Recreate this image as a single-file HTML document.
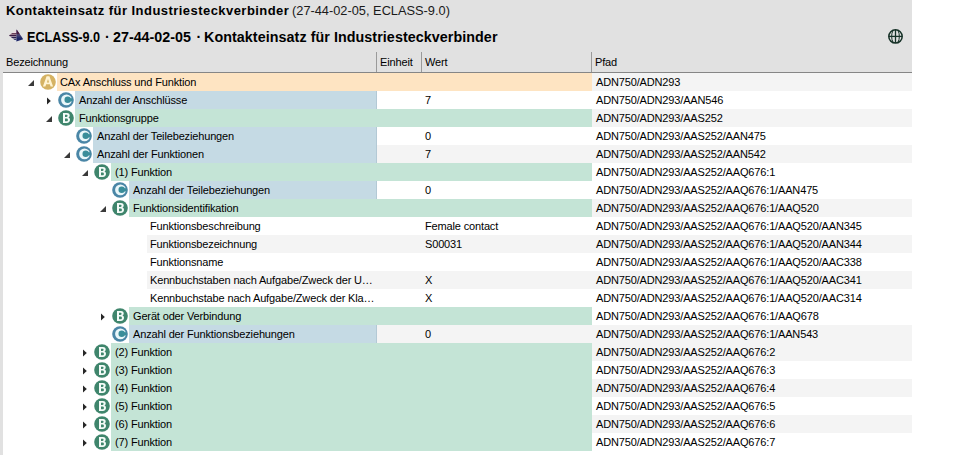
<!DOCTYPE html>
<html><head><meta charset="utf-8"><style>
html,body{margin:0;padding:0;background:#fff;}
body{width:955px;height:455px;position:relative;overflow:hidden;background:#fff;font-family:"Liberation Sans",sans-serif;}
#panel{position:absolute;left:0;top:0;width:912px;height:455px;background:#e1e1e1;}
#grid{position:absolute;left:3px;top:73px;width:909px;height:382px;background:#fff;}
.bg{position:absolute;height:18px;}
.tx{position:absolute;height:18px;line-height:18px;font-size:11px;letter-spacing:-0.15px;color:#000;white-space:nowrap;}
.ic,.ex{position:absolute;}
.hd{position:absolute;top:52px;height:21px;line-height:21px;font-size:11px;letter-spacing:-0.15px;color:#000;white-space:nowrap;}
.sep{position:absolute;top:52px;width:1px;height:20px;background:#9a9a9a;}
#hline{position:absolute;left:3px;top:72px;width:909px;height:1px;background:#868686;}
.t1{position:absolute;top:0;height:21px;line-height:21px;white-space:nowrap;color:#000;}
.t2{position:absolute;top:26px;height:22px;line-height:22px;white-space:nowrap;color:#000;font-weight:bold;font-size:14.3px;}
</style></head><body>
<div id="panel"></div>
<div id="grid"></div>
<div class="t1" style="left:6px;font-weight:bold;font-size:13px;letter-spacing:0.45px">Kontakteinsatz für Industriesteckverbinder</div>
<div class="t1" style="left:292px;font-size:12.8px;color:#1a1a1a">(27-44-02-05, ECLASS-9.0)</div>
<svg style="position:absolute;left:8px;top:28px" width="17" height="15" viewBox="0 0 17 15">
 <defs><clipPath id="lf"><path d="M8.6 1.5 L8.4 13.6 L1 7.4 Z"/></clipPath><clipPath id="rf"><path d="M8.6 1.5 L15.2 11.2 L8.4 13.6 Z"/></clipPath></defs>
 <g clip-path="url(#lf)"><rect x="0" y="0" width="17" height="15" fill="#eadbe2"/>
  <rect x="0" y="5.2" width="17" height="1.3" fill="#4c1c3c"/><rect x="0" y="7" width="17" height="1.3" fill="#3a1c44"/><rect x="0" y="8.8" width="17" height="1.3" fill="#2c2050"/><rect x="0" y="10.6" width="17" height="1.3" fill="#28305e"/><rect x="0" y="12.2" width="17" height="2" fill="#c8dcf0"/></g>
 <g clip-path="url(#rf)"><rect x="0" y="0" width="17" height="15" fill="#1c2466"/><rect x="0" y="0" width="17" height="6" fill="#4a1a40"/>
  <rect x="0" y="6.6" width="17" height="0.8" fill="#8a6a80"/><rect x="0" y="8.6" width="17" height="0.6" fill="#5a5a8a"/></g>
</svg>
<div class="t2" style="left:27px;transform:scaleX(0.885);transform-origin:0 0">ECLASS-9.0</div>
<div class="t2" style="left:105px">·</div>
<div class="t2" style="left:113px;letter-spacing:0px">27-44-02-05</div>
<div class="t2" style="left:196.5px">·</div>
<div class="t2" style="left:204px;letter-spacing:0.065px">Kontakteinsatz für Industriesteckverbinder</div>
<svg style="position:absolute;left:887px;top:28px" width="17" height="17" viewBox="0 0 17 17">
 <g fill="none" stroke="#173228">
  <circle cx="8.5" cy="8.4" r="6.7" stroke-width="1.5"/>
  <line x1="8.5" y1="1.8" x2="8.5" y2="15" stroke-width="1.3"/>
  <line x1="1.8" y1="8.4" x2="15.2" y2="8.4" stroke-width="1.3"/>
  <path d="M6 2.6 C4.2 5.6 4.2 11.2 6 14.2 M11 2.6 C12.8 5.6 12.8 11.2 11 14.2" stroke-width="1"/>
 </g>
</svg>
<div class="hd" style="left:6px">Bezeichnung</div>
<div class="hd" style="left:380px">Einheit</div>
<div class="hd" style="left:425px">Wert</div>
<div class="hd" style="left:595px">Pfad</div>
<div class="sep" style="left:376px"></div>
<div class="sep" style="left:421px"></div>
<div class="sep" style="left:591px"></div>
<div id="hline"></div>
<div class="bg" style="top:73px;left:57px;width:535px;background:#fee4c2"></div>
<div class="bg" style="top:73px;left:592px;width:320px;background:#f4f4f4"></div>
<svg class="ex" style="left:27px;top:79px" width="8" height="8" viewBox="0 0 8 8"><path d="M7 1 L7 7 L1 7 Z" fill="#3a3a3a"/></svg>
<svg class="ic" style="left:40px;top:74px" width="16" height="16" viewBox="0 0 16 16"><circle cx="8" cy="8" r="7.8" fill="#d5b263"/><path d="M2.9 12.5 L6.6 2.2 L9.4 2.2 L13.1 12.5 L10.6 12.5 L9.8 10.2 L6.2 10.2 L5.4 12.5 Z M6.9 8.4 L9.1 8.4 L8 5 Z" fill="#fff3d2" fill-rule="evenodd"/></svg>
<div class="tx" style="top:73px;left:60px">CAx Anschluss und Funktion</div>
<div class="tx" style="top:73px;left:596px">ADN750/ADN293</div>
<div class="bg" style="top:91px;left:75px;width:302px;background:#c5dae4"></div>
<div class="bg" style="top:91px;left:376px;width:1px;background:#b3c9d5"></div>
<div class="bg" style="top:91px;left:377px;width:215px;background:#ffffff"></div>
<div class="bg" style="top:91px;left:592px;width:320px;background:#ffffff"></div>
<svg class="ex" style="left:46px;top:97px" width="6" height="8" viewBox="0 0 6 8"><path d="M1 0.5 L4.8 4 L1 7.5 Z" fill="#262626"/></svg>
<svg class="ic" style="left:58px;top:92px" width="16" height="16" viewBox="0 0 16 16"><circle cx="8" cy="8" r="7.8" fill="#4a86a6"/><circle cx="8.5" cy="7.9" r="5.4" fill="#eaf7fa"/><circle cx="9.7" cy="7.8" r="3.2" fill="#3a8d9a"/><rect x="9.7" y="6.2" width="4.8" height="3.2" fill="#3a8d9a"/></svg>
<div class="tx" style="top:91px;left:79px">Anzahl der Anschlüsse</div>
<div class="tx" style="top:91px;left:425px">7</div>
<div class="tx" style="top:91px;left:596px">ADN750/ADN293/AAN546</div>
<div class="bg" style="top:109px;left:75px;width:517px;background:#c4e4d6"></div>
<div class="bg" style="top:109px;left:592px;width:320px;background:#f4f4f4"></div>
<svg class="ex" style="left:45px;top:115px" width="8" height="8" viewBox="0 0 8 8"><path d="M7 1 L7 7 L1 7 Z" fill="#3a3a3a"/></svg>
<svg class="ic" style="left:58px;top:110px" width="16" height="16" viewBox="0 0 16 16"><circle cx="8" cy="8" r="7.8" fill="#3f856c"/><path d="M5 3 H8.9 C11 3 11.7 4.2 11.7 5.4 C11.7 6.5 11.1 7.2 10.3 7.5 C11.4 7.8 12 8.6 12 9.8 C12 11.5 10.9 13 8.7 13 H5 Z M7 4.7 V7 H8.4 C9.2 7 9.6 6.5 9.6 5.85 C9.6 5.2 9.2 4.7 8.4 4.7 Z M7 8.6 V11.3 H8.6 C9.5 11.3 9.9 10.7 9.9 9.95 C9.9 9.2 9.5 8.6 8.6 8.6 Z" fill="#f4fbf8" fill-rule="evenodd"/></svg>
<div class="tx" style="top:109px;left:79px">Funktionsgruppe</div>
<div class="tx" style="top:109px;left:596px">ADN750/ADN293/AAS252</div>
<div class="bg" style="top:127px;left:93px;width:284px;background:#c5dae4"></div>
<div class="bg" style="top:127px;left:376px;width:1px;background:#b3c9d5"></div>
<div class="bg" style="top:127px;left:377px;width:215px;background:#ffffff"></div>
<div class="bg" style="top:127px;left:592px;width:320px;background:#ffffff"></div>
<svg class="ic" style="left:76px;top:128px" width="16" height="16" viewBox="0 0 16 16"><circle cx="8" cy="8" r="7.8" fill="#4a86a6"/><circle cx="8.5" cy="7.9" r="5.4" fill="#eaf7fa"/><circle cx="9.7" cy="7.8" r="3.2" fill="#3a8d9a"/><rect x="9.7" y="6.2" width="4.8" height="3.2" fill="#3a8d9a"/></svg>
<div class="tx" style="top:127px;left:97px">Anzahl der Teilebeziehungen</div>
<div class="tx" style="top:127px;left:425px">0</div>
<div class="tx" style="top:127px;left:596px">ADN750/ADN293/AAS252/AAN475</div>
<div class="bg" style="top:145px;left:93px;width:284px;background:#c5dae4"></div>
<div class="bg" style="top:145px;left:376px;width:1px;background:#b3c9d5"></div>
<div class="bg" style="top:145px;left:377px;width:215px;background:#f4f4f4"></div>
<div class="bg" style="top:145px;left:592px;width:320px;background:#f4f4f4"></div>
<svg class="ex" style="left:63px;top:151px" width="8" height="8" viewBox="0 0 8 8"><path d="M7 1 L7 7 L1 7 Z" fill="#3a3a3a"/></svg>
<svg class="ic" style="left:76px;top:146px" width="16" height="16" viewBox="0 0 16 16"><circle cx="8" cy="8" r="7.8" fill="#4a86a6"/><circle cx="8.5" cy="7.9" r="5.4" fill="#eaf7fa"/><circle cx="9.7" cy="7.8" r="3.2" fill="#3a8d9a"/><rect x="9.7" y="6.2" width="4.8" height="3.2" fill="#3a8d9a"/></svg>
<div class="tx" style="top:145px;left:97px">Anzahl der Funktionen</div>
<div class="tx" style="top:145px;left:425px">7</div>
<div class="tx" style="top:145px;left:596px">ADN750/ADN293/AAS252/AAN542</div>
<div class="bg" style="top:163px;left:111px;width:481px;background:#c4e4d6"></div>
<div class="bg" style="top:163px;left:592px;width:320px;background:#ffffff"></div>
<svg class="ex" style="left:81px;top:169px" width="8" height="8" viewBox="0 0 8 8"><path d="M7 1 L7 7 L1 7 Z" fill="#3a3a3a"/></svg>
<svg class="ic" style="left:94px;top:164px" width="16" height="16" viewBox="0 0 16 16"><circle cx="8" cy="8" r="7.8" fill="#3f856c"/><path d="M5 3 H8.9 C11 3 11.7 4.2 11.7 5.4 C11.7 6.5 11.1 7.2 10.3 7.5 C11.4 7.8 12 8.6 12 9.8 C12 11.5 10.9 13 8.7 13 H5 Z M7 4.7 V7 H8.4 C9.2 7 9.6 6.5 9.6 5.85 C9.6 5.2 9.2 4.7 8.4 4.7 Z M7 8.6 V11.3 H8.6 C9.5 11.3 9.9 10.7 9.9 9.95 C9.9 9.2 9.5 8.6 8.6 8.6 Z" fill="#f4fbf8" fill-rule="evenodd"/></svg>
<div class="tx" style="top:163px;left:115px">(1) Funktion</div>
<div class="tx" style="top:163px;left:596px">ADN750/ADN293/AAS252/AAQ676:1</div>
<div class="bg" style="top:181px;left:129px;width:248px;background:#c5dae4"></div>
<div class="bg" style="top:181px;left:376px;width:1px;background:#b3c9d5"></div>
<div class="bg" style="top:181px;left:377px;width:215px;background:#ffffff"></div>
<div class="bg" style="top:181px;left:592px;width:320px;background:#ffffff"></div>
<svg class="ic" style="left:112px;top:182px" width="16" height="16" viewBox="0 0 16 16"><circle cx="8" cy="8" r="7.8" fill="#4a86a6"/><circle cx="8.5" cy="7.9" r="5.4" fill="#eaf7fa"/><circle cx="9.7" cy="7.8" r="3.2" fill="#3a8d9a"/><rect x="9.7" y="6.2" width="4.8" height="3.2" fill="#3a8d9a"/></svg>
<div class="tx" style="top:181px;left:133px">Anzahl der Teilebeziehungen</div>
<div class="tx" style="top:181px;left:425px">0</div>
<div class="tx" style="top:181px;left:596px">ADN750/ADN293/AAS252/AAQ676:1/AAN475</div>
<div class="bg" style="top:199px;left:129px;width:463px;background:#c4e4d6"></div>
<div class="bg" style="top:199px;left:592px;width:320px;background:#f4f4f4"></div>
<svg class="ex" style="left:99px;top:205px" width="8" height="8" viewBox="0 0 8 8"><path d="M7 1 L7 7 L1 7 Z" fill="#3a3a3a"/></svg>
<svg class="ic" style="left:112px;top:200px" width="16" height="16" viewBox="0 0 16 16"><circle cx="8" cy="8" r="7.8" fill="#3f856c"/><path d="M5 3 H8.9 C11 3 11.7 4.2 11.7 5.4 C11.7 6.5 11.1 7.2 10.3 7.5 C11.4 7.8 12 8.6 12 9.8 C12 11.5 10.9 13 8.7 13 H5 Z M7 4.7 V7 H8.4 C9.2 7 9.6 6.5 9.6 5.85 C9.6 5.2 9.2 4.7 8.4 4.7 Z M7 8.6 V11.3 H8.6 C9.5 11.3 9.9 10.7 9.9 9.95 C9.9 9.2 9.5 8.6 8.6 8.6 Z" fill="#f4fbf8" fill-rule="evenodd"/></svg>
<div class="tx" style="top:199px;left:133px">Funktionsidentifikation</div>
<div class="tx" style="top:199px;left:596px">ADN750/ADN293/AAS252/AAQ676:1/AAQ520</div>
<div class="bg" style="top:217px;left:147px;width:230px;background:#ffffff"></div>
<div class="bg" style="top:217px;left:377px;width:215px;background:#ffffff"></div>
<div class="bg" style="top:217px;left:592px;width:320px;background:#ffffff"></div>
<div class="tx" style="top:217px;left:150px">Funktionsbeschreibung</div>
<div class="tx" style="top:217px;left:425px">Female contact</div>
<div class="tx" style="top:217px;left:596px">ADN750/ADN293/AAS252/AAQ676:1/AAQ520/AAN345</div>
<div class="bg" style="top:235px;left:147px;width:230px;background:#f4f4f4"></div>
<div class="bg" style="top:235px;left:377px;width:215px;background:#f4f4f4"></div>
<div class="bg" style="top:235px;left:592px;width:320px;background:#f4f4f4"></div>
<div class="tx" style="top:235px;left:150px">Funktionsbezeichnung</div>
<div class="tx" style="top:235px;left:425px">S00031</div>
<div class="tx" style="top:235px;left:596px">ADN750/ADN293/AAS252/AAQ676:1/AAQ520/AAN344</div>
<div class="bg" style="top:253px;left:147px;width:230px;background:#ffffff"></div>
<div class="bg" style="top:253px;left:377px;width:215px;background:#ffffff"></div>
<div class="bg" style="top:253px;left:592px;width:320px;background:#ffffff"></div>
<div class="tx" style="top:253px;left:150px">Funktionsname</div>
<div class="tx" style="top:253px;left:596px">ADN750/ADN293/AAS252/AAQ676:1/AAQ520/AAC338</div>
<div class="bg" style="top:271px;left:147px;width:230px;background:#f4f4f4"></div>
<div class="bg" style="top:271px;left:377px;width:215px;background:#f4f4f4"></div>
<div class="bg" style="top:271px;left:592px;width:320px;background:#f4f4f4"></div>
<div class="tx" style="top:271px;left:150px">Kennbuchstaben nach Aufgabe/Zweck der U…</div>
<div class="tx" style="top:271px;left:425px">X</div>
<div class="tx" style="top:271px;left:596px">ADN750/ADN293/AAS252/AAQ676:1/AAQ520/AAC341</div>
<div class="bg" style="top:289px;left:147px;width:230px;background:#ffffff"></div>
<div class="bg" style="top:289px;left:377px;width:215px;background:#ffffff"></div>
<div class="bg" style="top:289px;left:592px;width:320px;background:#ffffff"></div>
<div class="tx" style="top:289px;left:150px">Kennbuchstabe nach Aufgabe/Zweck der Kla…</div>
<div class="tx" style="top:289px;left:425px">X</div>
<div class="tx" style="top:289px;left:596px">ADN750/ADN293/AAS252/AAQ676:1/AAQ520/AAC314</div>
<div class="bg" style="top:307px;left:129px;width:463px;background:#c4e4d6"></div>
<div class="bg" style="top:307px;left:592px;width:320px;background:#ffffff"></div>
<svg class="ex" style="left:100px;top:313px" width="6" height="8" viewBox="0 0 6 8"><path d="M1 0.5 L4.8 4 L1 7.5 Z" fill="#262626"/></svg>
<svg class="ic" style="left:112px;top:308px" width="16" height="16" viewBox="0 0 16 16"><circle cx="8" cy="8" r="7.8" fill="#3f856c"/><path d="M5 3 H8.9 C11 3 11.7 4.2 11.7 5.4 C11.7 6.5 11.1 7.2 10.3 7.5 C11.4 7.8 12 8.6 12 9.8 C12 11.5 10.9 13 8.7 13 H5 Z M7 4.7 V7 H8.4 C9.2 7 9.6 6.5 9.6 5.85 C9.6 5.2 9.2 4.7 8.4 4.7 Z M7 8.6 V11.3 H8.6 C9.5 11.3 9.9 10.7 9.9 9.95 C9.9 9.2 9.5 8.6 8.6 8.6 Z" fill="#f4fbf8" fill-rule="evenodd"/></svg>
<div class="tx" style="top:307px;left:133px">Gerät oder Verbindung</div>
<div class="tx" style="top:307px;left:596px">ADN750/ADN293/AAS252/AAQ676:1/AAQ678</div>
<div class="bg" style="top:325px;left:129px;width:248px;background:#c5dae4"></div>
<div class="bg" style="top:325px;left:376px;width:1px;background:#b3c9d5"></div>
<div class="bg" style="top:325px;left:377px;width:215px;background:#f4f4f4"></div>
<div class="bg" style="top:325px;left:592px;width:320px;background:#f4f4f4"></div>
<svg class="ic" style="left:112px;top:326px" width="16" height="16" viewBox="0 0 16 16"><circle cx="8" cy="8" r="7.8" fill="#4a86a6"/><circle cx="8.5" cy="7.9" r="5.4" fill="#eaf7fa"/><circle cx="9.7" cy="7.8" r="3.2" fill="#3a8d9a"/><rect x="9.7" y="6.2" width="4.8" height="3.2" fill="#3a8d9a"/></svg>
<div class="tx" style="top:325px;left:133px">Anzahl der Funktionsbeziehungen</div>
<div class="tx" style="top:325px;left:425px">0</div>
<div class="tx" style="top:325px;left:596px">ADN750/ADN293/AAS252/AAQ676:1/AAN543</div>
<div class="bg" style="top:343px;left:111px;width:481px;background:#c4e4d6"></div>
<div class="bg" style="top:343px;left:592px;width:320px;background:#f4f4f4"></div>
<svg class="ex" style="left:82px;top:349px" width="6" height="8" viewBox="0 0 6 8"><path d="M1 0.5 L4.8 4 L1 7.5 Z" fill="#262626"/></svg>
<svg class="ic" style="left:94px;top:344px" width="16" height="16" viewBox="0 0 16 16"><circle cx="8" cy="8" r="7.8" fill="#3f856c"/><path d="M5 3 H8.9 C11 3 11.7 4.2 11.7 5.4 C11.7 6.5 11.1 7.2 10.3 7.5 C11.4 7.8 12 8.6 12 9.8 C12 11.5 10.9 13 8.7 13 H5 Z M7 4.7 V7 H8.4 C9.2 7 9.6 6.5 9.6 5.85 C9.6 5.2 9.2 4.7 8.4 4.7 Z M7 8.6 V11.3 H8.6 C9.5 11.3 9.9 10.7 9.9 9.95 C9.9 9.2 9.5 8.6 8.6 8.6 Z" fill="#f4fbf8" fill-rule="evenodd"/></svg>
<div class="tx" style="top:343px;left:115px">(2) Funktion</div>
<div class="tx" style="top:343px;left:596px">ADN750/ADN293/AAS252/AAQ676:2</div>
<div class="bg" style="top:361px;left:111px;width:481px;background:#c4e4d6"></div>
<div class="bg" style="top:361px;left:592px;width:320px;background:#ffffff"></div>
<svg class="ex" style="left:82px;top:367px" width="6" height="8" viewBox="0 0 6 8"><path d="M1 0.5 L4.8 4 L1 7.5 Z" fill="#262626"/></svg>
<svg class="ic" style="left:94px;top:362px" width="16" height="16" viewBox="0 0 16 16"><circle cx="8" cy="8" r="7.8" fill="#3f856c"/><path d="M5 3 H8.9 C11 3 11.7 4.2 11.7 5.4 C11.7 6.5 11.1 7.2 10.3 7.5 C11.4 7.8 12 8.6 12 9.8 C12 11.5 10.9 13 8.7 13 H5 Z M7 4.7 V7 H8.4 C9.2 7 9.6 6.5 9.6 5.85 C9.6 5.2 9.2 4.7 8.4 4.7 Z M7 8.6 V11.3 H8.6 C9.5 11.3 9.9 10.7 9.9 9.95 C9.9 9.2 9.5 8.6 8.6 8.6 Z" fill="#f4fbf8" fill-rule="evenodd"/></svg>
<div class="tx" style="top:361px;left:115px">(3) Funktion</div>
<div class="tx" style="top:361px;left:596px">ADN750/ADN293/AAS252/AAQ676:3</div>
<div class="bg" style="top:379px;left:111px;width:481px;background:#c4e4d6"></div>
<div class="bg" style="top:379px;left:592px;width:320px;background:#f4f4f4"></div>
<svg class="ex" style="left:82px;top:385px" width="6" height="8" viewBox="0 0 6 8"><path d="M1 0.5 L4.8 4 L1 7.5 Z" fill="#262626"/></svg>
<svg class="ic" style="left:94px;top:380px" width="16" height="16" viewBox="0 0 16 16"><circle cx="8" cy="8" r="7.8" fill="#3f856c"/><path d="M5 3 H8.9 C11 3 11.7 4.2 11.7 5.4 C11.7 6.5 11.1 7.2 10.3 7.5 C11.4 7.8 12 8.6 12 9.8 C12 11.5 10.9 13 8.7 13 H5 Z M7 4.7 V7 H8.4 C9.2 7 9.6 6.5 9.6 5.85 C9.6 5.2 9.2 4.7 8.4 4.7 Z M7 8.6 V11.3 H8.6 C9.5 11.3 9.9 10.7 9.9 9.95 C9.9 9.2 9.5 8.6 8.6 8.6 Z" fill="#f4fbf8" fill-rule="evenodd"/></svg>
<div class="tx" style="top:379px;left:115px">(4) Funktion</div>
<div class="tx" style="top:379px;left:596px">ADN750/ADN293/AAS252/AAQ676:4</div>
<div class="bg" style="top:397px;left:111px;width:481px;background:#c4e4d6"></div>
<div class="bg" style="top:397px;left:592px;width:320px;background:#ffffff"></div>
<svg class="ex" style="left:82px;top:403px" width="6" height="8" viewBox="0 0 6 8"><path d="M1 0.5 L4.8 4 L1 7.5 Z" fill="#262626"/></svg>
<svg class="ic" style="left:94px;top:398px" width="16" height="16" viewBox="0 0 16 16"><circle cx="8" cy="8" r="7.8" fill="#3f856c"/><path d="M5 3 H8.9 C11 3 11.7 4.2 11.7 5.4 C11.7 6.5 11.1 7.2 10.3 7.5 C11.4 7.8 12 8.6 12 9.8 C12 11.5 10.9 13 8.7 13 H5 Z M7 4.7 V7 H8.4 C9.2 7 9.6 6.5 9.6 5.85 C9.6 5.2 9.2 4.7 8.4 4.7 Z M7 8.6 V11.3 H8.6 C9.5 11.3 9.9 10.7 9.9 9.95 C9.9 9.2 9.5 8.6 8.6 8.6 Z" fill="#f4fbf8" fill-rule="evenodd"/></svg>
<div class="tx" style="top:397px;left:115px">(5) Funktion</div>
<div class="tx" style="top:397px;left:596px">ADN750/ADN293/AAS252/AAQ676:5</div>
<div class="bg" style="top:415px;left:111px;width:481px;background:#c4e4d6"></div>
<div class="bg" style="top:415px;left:592px;width:320px;background:#f4f4f4"></div>
<svg class="ex" style="left:82px;top:421px" width="6" height="8" viewBox="0 0 6 8"><path d="M1 0.5 L4.8 4 L1 7.5 Z" fill="#262626"/></svg>
<svg class="ic" style="left:94px;top:416px" width="16" height="16" viewBox="0 0 16 16"><circle cx="8" cy="8" r="7.8" fill="#3f856c"/><path d="M5 3 H8.9 C11 3 11.7 4.2 11.7 5.4 C11.7 6.5 11.1 7.2 10.3 7.5 C11.4 7.8 12 8.6 12 9.8 C12 11.5 10.9 13 8.7 13 H5 Z M7 4.7 V7 H8.4 C9.2 7 9.6 6.5 9.6 5.85 C9.6 5.2 9.2 4.7 8.4 4.7 Z M7 8.6 V11.3 H8.6 C9.5 11.3 9.9 10.7 9.9 9.95 C9.9 9.2 9.5 8.6 8.6 8.6 Z" fill="#f4fbf8" fill-rule="evenodd"/></svg>
<div class="tx" style="top:415px;left:115px">(6) Funktion</div>
<div class="tx" style="top:415px;left:596px">ADN750/ADN293/AAS252/AAQ676:6</div>
<div class="bg" style="top:433px;left:111px;width:481px;background:#c4e4d6"></div>
<div class="bg" style="top:433px;left:592px;width:320px;background:#ffffff"></div>
<svg class="ex" style="left:82px;top:439px" width="6" height="8" viewBox="0 0 6 8"><path d="M1 0.5 L4.8 4 L1 7.5 Z" fill="#262626"/></svg>
<svg class="ic" style="left:94px;top:434px" width="16" height="16" viewBox="0 0 16 16"><circle cx="8" cy="8" r="7.8" fill="#3f856c"/><path d="M5 3 H8.9 C11 3 11.7 4.2 11.7 5.4 C11.7 6.5 11.1 7.2 10.3 7.5 C11.4 7.8 12 8.6 12 9.8 C12 11.5 10.9 13 8.7 13 H5 Z M7 4.7 V7 H8.4 C9.2 7 9.6 6.5 9.6 5.85 C9.6 5.2 9.2 4.7 8.4 4.7 Z M7 8.6 V11.3 H8.6 C9.5 11.3 9.9 10.7 9.9 9.95 C9.9 9.2 9.5 8.6 8.6 8.6 Z" fill="#f4fbf8" fill-rule="evenodd"/></svg>
<div class="tx" style="top:433px;left:115px">(7) Funktion</div>
<div class="tx" style="top:433px;left:596px">ADN750/ADN293/AAS252/AAQ676:7</div>
</body></html>
